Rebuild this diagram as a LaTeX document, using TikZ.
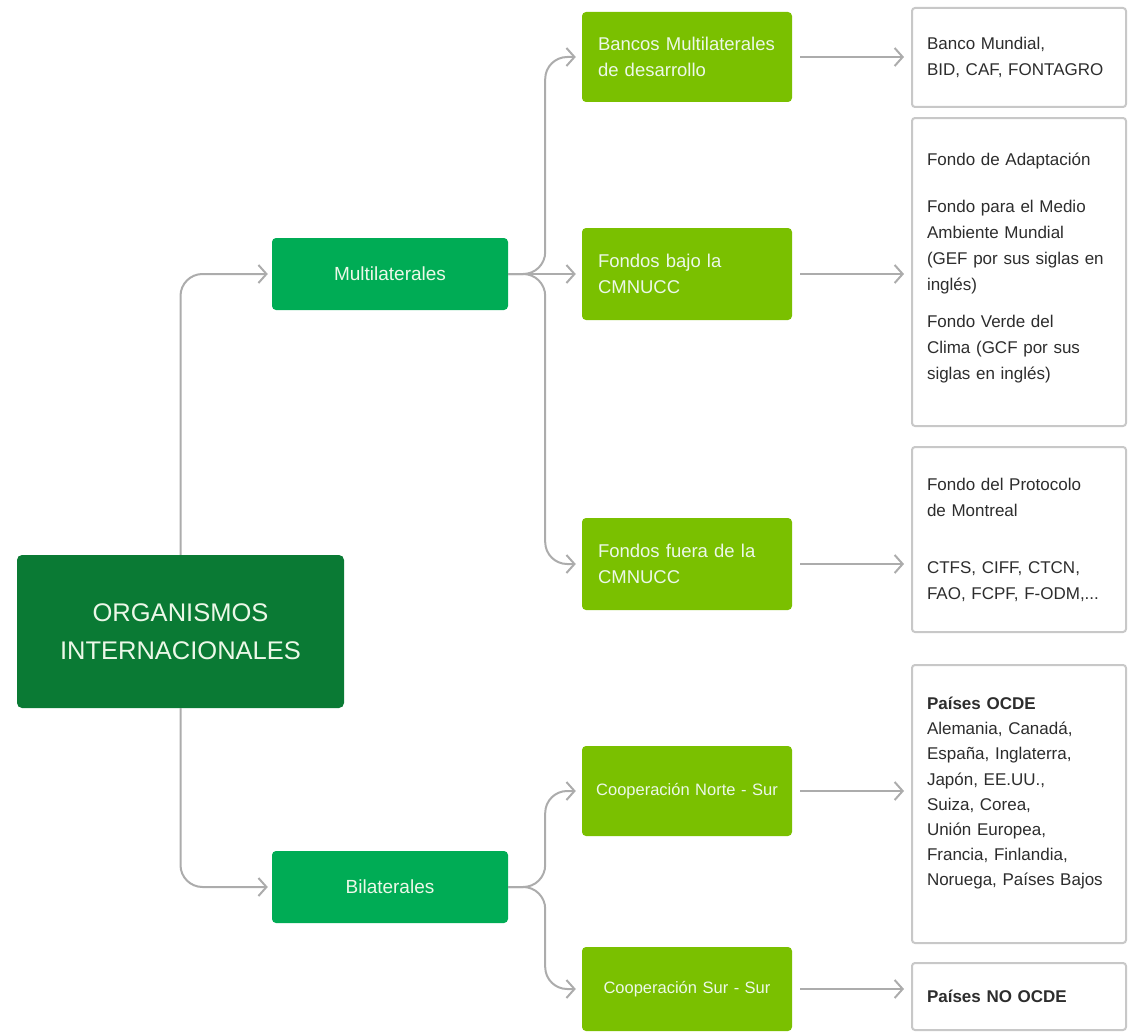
\documentclass[tikz,border=0pt]{standalone}
\usepackage{fontspec}
\setmainfont{Liberation Sans}
\usetikzlibrary{arrows.meta,calc}
\hyphenpenalty=10000
\definecolor{orgDark}{RGB}{10,122,52}
\definecolor{orgMid}{RGB}{0,172,85}
\definecolor{orgLime}{RGB}{122,192,0}
\definecolor{lineGray}{RGB}{172,172,172}
\definecolor{frameGray}{RGB}{200,200,200}
\definecolor{textGray}{RGB}{45,45,45}
\definecolor{labelWhite}{RGB}{236,248,232}
\tikzset{
  rootbox/.style={rounded corners=5pt, fill=orgDark, text=labelWhite, align=center,
              minimum width=327pt, minimum height=153pt, inner sep=0pt,
              font=\fontsize{25.5}{38}\selectfont},
  typebox/.style={rounded corners=4pt, fill=orgMid, text=labelWhite, align=center,
              minimum width=236pt, minimum height=72pt, inner sep=0pt,
              font=\fontsize{19}{26}\selectfont},
  fundbox/.style={rounded corners=4pt, fill=orgLime, text=labelWhite, align=left,
              minimum height=90pt, inner sep=0pt, inner xsep=16pt, text width=178pt,
              font=\fontsize{18.5}{26}\selectfont},
  coopbox/.style={fundbox, align=center, inner xsep=2pt, text width=206pt,
              font=\fontsize{16.5}{26}\selectfont},
  listbox/.style={rounded corners=3pt, draw=frameGray, line width=2pt, fill=white,
              text=textGray, align=left, inner sep=0pt, inner xsep=15pt, text width=184pt,
              font=\fontsize{17}{26}\selectfont},
  link/.style={draw=lineGray, line width=2pt, rounded corners=22pt,
              -{Straight Barb[length=8pt,width=18pt]}, shorten >=6pt},
  sidelink/.style={link, shorten <=8pt, shorten >=7pt}
}

\begin{document}
\begin{tikzpicture}[x=1pt, y=-1pt]
\useasboundingbox (0,0) rectangle (1128,1033);

\node[rootbox] (root) at (180.5,631.5) {ORGANISMOS\\INTERNACIONALES};

\node[typebox] (multi) at (390,274) {Multilaterales};
\node[typebox] (bila) at (390,887) {Bilaterales};

\node[fundbox] (bancos) at (687,57) {Bancos Multilaterales\\de desarrollo};
\node[fundbox, minimum height=92pt] (bajo) at (687,274) {Fondos bajo la\\CMNUCC};
\node[fundbox, minimum height=92pt] (fuera) at (687,564) {Fondos fuera de la\\CMNUCC};
\node[coopbox] (norte) at (687,791) {Cooperación Norte - Sur};
\node[coopbox, minimum height=84pt] (sur) at (687,989) {Cooperación Sur - Sur};

\node[listbox, minimum height=99pt] (banlist) at (1019,57.5)
  {Banco Mundial,\\BID, CAF, FONTAGRO};
\node[listbox, minimum height=308pt] (bajolist) at (1019,272)
  {Fondo de Adaptación\\[21pt]Fondo para el Medio\\Ambiente Mundial\\(GEF por sus siglas en\\inglés)\\[11pt]Fondo Verde del\\Clima (GCF por sus\\siglas en inglés)\\[-14pt]\mbox{}};
\node[listbox, minimum height=185pt] (fueralist) at (1019,539.5)
  {Fondo del Protocolo\\de Montreal\\[31pt]CTFS, CIFF, CTCN,\\FAO, FCPF, F-ODM,...};
\node[listbox, minimum height=278pt, font=\fontsize{17}{25.2}\selectfont] (nortelist) at (1019,804)
  {\textbf{Países OCDE}\\Alemania, Canadá,\\España, Inglaterra,\\Japón, EE.UU.,\\Suiza, Corea,\\Unión Europea,\\Francia, Finlandia,\\Noruega, Países Bajos\\\mbox{}};
\node[listbox, minimum height=67pt] (surlist) at (1019,996.5) {\textbf{Países NO OCDE}};

\coordinate (msplit) at ($(multi.east)+(37,0)$);
\coordinate (bsplit) at ($(bila.east)+(37,0)$);

\draw[link, shorten >=4pt] (root.north) |- (multi.west);
\draw[link, shorten >=4pt] (root.south) |- (bila.west);

\draw[link] (multi.east) -| (msplit |- bancos.west) -- (bancos.west);
\draw[link] (multi.east) -- (bajo.west);
\draw[link] (multi.east) -| (msplit |- fuera.west) -- (fuera.west);
\draw[link] (bila.east) -| (bsplit |- norte.west) -- (norte.west);
\draw[link] (bila.east) -| (bsplit |- sur.west) -- (sur.west);

\draw[sidelink] (bancos.east) -- (bancos.east -| banlist.west);
\draw[sidelink] (bajo.east) -- (bajo.east -| bajolist.west);
\draw[sidelink] (fuera.east) -- (fuera.east -| fueralist.west);
\draw[sidelink] (norte.east) -- (norte.east -| nortelist.west);
\draw[sidelink] (sur.east) -- (sur.east -| surlist.west);
\end{tikzpicture}
\end{document}
